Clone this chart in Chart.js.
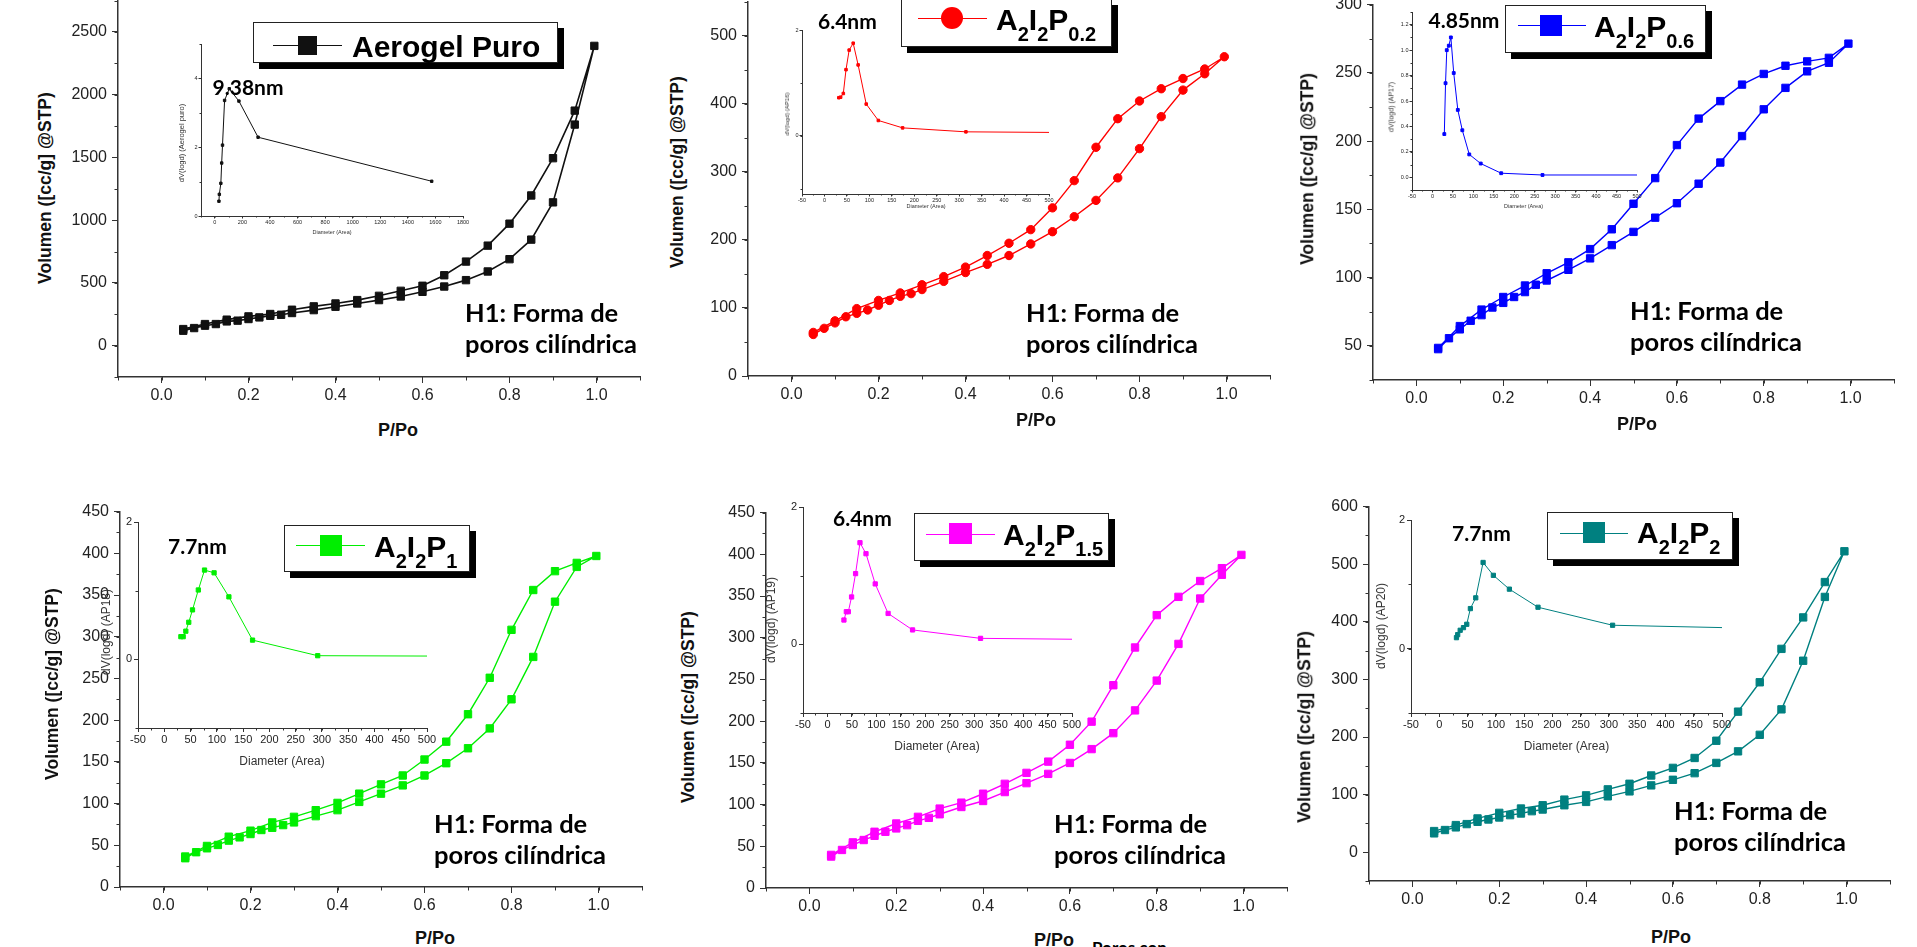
<!DOCTYPE html>
<html>
<head>
<meta charset="utf-8">
<title>Isotermas de adsorción</title>
<script src="https://cdn.jsdelivr.net/npm/chart.js@4.4.1/dist/chart.umd.min.js"></script>
<style>
  html, body { margin: 0; background: #fff; }
  body { position: relative; width: 1917px; height: 947px; overflow: hidden; font-family: 'Liberation Sans', Arial, sans-serif; }
  canvas, .t, .box, .ln, .mk { position: absolute; }
  .t { white-space: nowrap; line-height: 1; color: #000; }
  .c { transform: translate(-50%, -50%); }
  .v { transform: translate(-50%, -50%) rotate(-90deg); }
  .axt { font-weight: bold; font-size: 18px; color: #111; }
  .h1 { font: bold 25.5px Lato, sans-serif; line-height: 31px; }
  .nm { font: bold 21px Lato, sans-serif; }
  .lab { font: bold 30px 'Liberation Sans', Arial, sans-serif; }
  .lab sub { font-size: 20px; vertical-align: -11px; line-height: 0; }
  .box { box-sizing: border-box; border: 1.5px solid #222; background: #fff; box-shadow: 6px 6px 0 #000; }
  .ln { height: 1px; }
  .small { color: #333; }
  .poros { font: bold 17px Lato, sans-serif; }
</style>
</head>
<body>
<script>
// relative pressure steps (adsorption up, desorption down)
var adsP = [0.05, 0.075, 0.1, 0.125, 0.15, 0.175, 0.2, 0.225, 0.25, 0.275, 0.3, 0.35, 0.4, 0.45, 0.5, 0.55, 0.6, 0.65, 0.7, 0.75, 0.8, 0.85, 0.9, 0.95, 0.995];
var desP = [0.95, 0.9, 0.85, 0.8, 0.75, 0.7, 0.65, 0.6, 0.55, 0.5, 0.45, 0.4, 0.35, 0.3, 0.25, 0.2, 0.15, 0.1, 0.05];

// volumen adsorbido, cc/g @STP
var aerogelAds = [119, 140, 159, 172, 193, 199, 212, 225, 238, 246, 260, 283, 310, 336, 363, 392, 429, 471, 522, 591, 689, 845, 1142, 1762, 2389];
var aerogelDes = [1873, 1494, 1197, 972, 797, 670, 561, 477, 437, 397, 363, 336, 313, 286, 252, 233, 207, 172, 132];
var p02Ads = [61, 70, 78, 87, 92, 97, 104, 111, 117, 121, 127, 139, 152, 164, 177, 194, 212, 234, 258, 291, 334, 381, 420, 444, 469];
var p02Des = [451, 437, 422, 404, 378, 336, 287, 247, 215, 195, 177, 160, 146, 134, 122, 111, 99, 81, 64];
var p06Ads = [47.6, 55.6, 62.1, 68.4, 72.5, 78.1, 81.5, 85.8, 89.4, 94.8, 97.9, 105.7, 114.1, 123.8, 133.5, 143.9, 154.5, 168.8, 184.3, 203.7, 223.3, 239, 251.1, 257.4, 271.4];
var p06Des = [261, 258.4, 255.2, 249.2, 241.4, 229.3, 216.5, 197.1, 172.9, 154.1, 135.4, 120.9, 111.2, 103.2, 94.2, 85.8, 76.6, 64.5, 48.5];
var p1Ads = [34.5, 41.7, 46.4, 50.4, 55.6, 59.5, 63.5, 68.3, 71, 74.2, 77.4, 84.9, 92.1, 102, 111.9, 121.8, 133.7, 148.4, 166.3, 190.1, 225, 275.8, 342, 383.7, 396.8];
var p1Des = [388.5, 378.6, 356, 308.3, 250.8, 207.1, 174.2, 152.8, 133.7, 123, 111.9, 100.8, 92.1, 84.1, 77.4, 67.5, 60.3, 49.2, 36.5];
var p15Ads = [37.7, 45.6, 51.5, 57.5, 62.6, 67.4, 71.4, 75.3, 80.5, 84.1, 88.4, 97.1, 104.3, 115, 125.7, 136.8, 149.9, 166.5, 185.6, 212.9, 248.6, 292.6, 347, 375.5, 399.3];
var p15Des = [383.4, 368, 349, 327.1, 288.3, 243.1, 199.4, 171.7, 151.5, 138, 124.9, 113, 102.3, 95.2, 85.3, 77.3, 67.4, 54.7, 39.7];
var p2Ads = [32.7, 38.5, 43.1, 48.8, 52.8, 56.8, 60.3, 64.3, 67.2, 71.2, 74.1, 81.5, 87.3, 97, 105.6, 116, 125.7, 137.2, 155, 175.1, 203.8, 248, 332.4, 443.2, 522.4];
var p2Des = [469, 407.6, 353, 295, 244, 193.5, 163.6, 146.4, 133.2, 118.8, 109.1, 98.7, 91.3, 81.5, 75.8, 68.3, 58.6, 47.1, 36.7];

// pore size distributions (inset): diameter (A) and dV(logd)
var aerogelDiam = [30, 33, 44, 50, 56, 71, 105, 175, 314, 1573];
var aerogelDv = [0.43, 0.63, 0.95, 1.54, 2.06, 3.36, 3.70, 3.34, 2.29, 1.01];
var p02Diam = [32, 36, 42, 48, 55, 64, 75, 93, 120, 174, 315, 1600];
var p02Dv = [0.72, 0.73, 0.8, 1.25, 1.62, 1.75, 1.34, 0.6, 0.29, 0.15, 0.075, 0];
var p06Diam = [29, 32, 35, 40, 45, 52, 62, 73, 90, 118, 168, 269, 1600];
var p06Dv = [0.34, 0.74, 1.0, 1.035, 1.10, 0.82, 0.53, 0.37, 0.18, 0.108, 0.032, 0.018, 0.018];
var p1Diam = [31.6, 36, 41, 46.6, 53.7, 64.8, 76.6, 94.8, 123, 168, 292, 1600];
var p1Dv = [0.33, 0.33, 0.41, 0.54, 0.72, 1.01, 1.30, 1.26, 0.91, 0.28, 0.053, 0.02];
var p15Diam = [33.7, 38.6, 42.7, 49.3, 57.5, 66.5, 78.8, 97.7, 124, 174, 313, 1600];
var p15Dv = [0.354, 0.475, 0.475, 0.69, 1.03, 1.48, 1.32, 0.88, 0.45, 0.21, 0.087, 0];
var p2Diam = [30.4, 32.6, 37, 42.8, 48.6, 55, 64.5, 77.5, 95.7, 124, 174.6, 306.5, 1600];
var p2Dv = [0.171, 0.218, 0.286, 0.327, 0.379, 0.623, 0.79, 1.34, 1.14, 0.925, 0.644, 0.364, 0.12];

// tick labels
var pPoTicks = [0, 0.2, 0.4, 0.6, 0.8, 1.0];
var aerogelVolTicks = [0, 500, 1000, 1500, 2000, 2500];
var p02VolTicks = [0, 100, 200, 300, 400, 500];
var p06VolTicks = [50, 100, 150, 200, 250, 300];
var p1VolTicks = [0, 50, 100, 150, 200, 250, 300, 350, 400, 450];
var p2VolTicks = [0, 100, 200, 300, 400, 500, 600];
var aerogelDiamTicks = [0, 200, 400, 600, 800, 1000, 1200, 1400, 1600, 1800];
var diamTicks = [-50, 0, 50, 100, 150, 200, 250, 300, 350, 400, 450, 500];
var aerogelDvTicks = [0, 2, 4];
var dvTicks = [0, 2];
var p06DvTicks = [0, 0.2, 0.4, 0.6, 0.8, 1.0, 1.2];

var SANS = "'Liberation Sans', Arial, sans-serif";

function isotherm(ads, des) {
    return adsP.map(function (p, i) { return {x: p, y: ads[i]}; })
        .concat(desP.map(function (p, i) { return {x: p, y: des[i]}; }));
}
function pairs(xs, ys) {
    return xs.map(function (x, i) { return {x: x, y: ys[i]}; });
}

// Origin style minor ticks, outside the axes
Chart.register({
    id: 'minorTicks',
    afterDraw: function (chart, args, opts) {
        if (!opts.x) return;
        var ctx = chart.ctx, area = chart.chartArea, i, v, p;
        ctx.save();
        ctx.strokeStyle = '#333';
        ctx.lineWidth = 1;
        ctx.beginPath();
        for (i = 0; (v = opts.x[0] + i * opts.x[2]) <= opts.x[1] + 1e-9; i++) {
            p = Math.round(chart.scales.x.getPixelForValue(v)) + 0.5;
            ctx.moveTo(p, area.bottom);
            ctx.lineTo(p, area.bottom + opts.len);
        }
        for (i = 0; (v = opts.y[0] + i * opts.y[2]) <= opts.y[1] + 1e-9; i++) {
            p = Math.round(chart.scales.y.getPixelForValue(v)) + 0.5;
            ctx.moveTo(area.left, p);
            ctx.lineTo(area.left - opts.len, p);
        }
        ctx.stroke();
        ctx.restore();
    }
});

function axis(pos, range, ticks, dec, st) {
    return {
        type: 'linear', position: pos, min: range[0], max: range[1],
        afterBuildTicks: function (s) { s.ticks = ticks.map(function (v) { return {value: v}; }); },
        afterFit: function (s) { if (pos === 'left') s.width = st.yw; else s.height = st.xh; },
        ticks: {
            autoSkip: false, maxRotation: 0, color: '#222',
            padding: pos === 'left' ? st.padY : st.padX,
            font: {family: SANS, size: st.font},
            callback: function (v) { return v.toFixed(dec); }
        },
        grid: {drawOnChartArea: false, drawTicks: true, tickLength: st.tl, color: '#333', lineWidth: 1},
        border: {display: true, color: '#333', width: st.bw}
    };
}

function plot(a, data, s) {
    var pt = 12, pr = 18;
    var w = s.yw + a.r - a.l + pr, h = pt + a.b - a.t + s.xh;
    var c = document.createElement('canvas');
    c.width = w;
    c.height = h;
    c.style.left = (a.l - s.yw) + 'px';
    c.style.top = (a.t - pt) + 'px';
    document.body.appendChild(c);
    new Chart(c, {
        type: 'scatter',
        data: {
            datasets: [{
                data: data, showLine: true, clip: s.clip,
                borderColor: s.color, backgroundColor: s.color, borderWidth: s.lw,
                pointStyle: s.marker, pointRadius: s.r, pointBorderWidth: 1
            }]
        },
        options: {
            responsive: false, animation: false, events: [],
            layout: {padding: {top: pt, right: pr, left: 0, bottom: 0}},
            plugins: {
                legend: {display: false},
                tooltip: {enabled: false},
                minorTicks: {x: a.xMinor, y: a.yMinor, len: s.ml}
            },
            scales: {
                x: axis('bottom', a.x, a.xTicks, a.xDec, s),
                y: axis('left', a.y, a.yTicks, a.yDec, s)
            }
        }
    });
}

function put(cls, html, left, top, css) {
    var d = document.createElement('div');
    d.className = cls;
    d.innerHTML = html;
    d.style.left = left + 'px';
    d.style.top = top + 'px';
    if (css) d.style.cssText += css;
    document.body.appendChild(d);
    return d;
}

var H1 = 'H1: Forma de<br>poros cilíndrica';
var panels = [
    {color: '#111111', marker: 'rect', lw: 1.6, ir: 1.7,
        iso: isotherm(aerogelAds, aerogelDes), psd: pairs(aerogelDiam, aerogelDv),
        main: {l: 118, r: 640, t: -2, b: 377, y: [-250, 2750], yTicks: aerogelVolTicks, yMinor: [-250, 2750, 250]},
        inset: {l: 201, r: 463, t: 44, b: 216, x: [-100, 1800], xTicks: aerogelDiamTicks, xMinor: [-100, 1800, 100],
            y: [0, 5], yTicks: aerogelDvTicks, yMinor: [0, 5, 1], yDec: 0},
        small: true, yTitle: [46, 187.5], xTitle: [398, 430], h1: [465, 296.5], nm: ['9.38nm', 212.6, 74.1],
        legend: {box: [253, 22, 305, 41], line: [273, 342, 45], mk: [307, 45.5, 19, 19], text: ['Aerogel Puro', 352, 29.6]},
        iy: ['dV(logd) (Aerogel puro)', 182.4, 143, 7.5], ix: [332, 233, 5.5]},
    {color: '#ff0000', marker: 'circle', lw: 1.4, ir: 1.8,
        iso: isotherm(p02Ads, p02Des), psd: pairs(p02Diam, p02Dv),
        main: {l: 748, r: 1270, t: -1, b: 376, y: [0, 550], yTicks: p02VolTicks, yMinor: [0, 550, 50]},
        inset: {l: 802, r: 1049, t: 30, b: 194, x: [-50, 500], xTicks: diamTicks, xMinor: [-50, 500, 25],
            y: [-1.1, 2], yTicks: dvTicks, yMinor: [-1, 2, 1], yDec: 0},
        small: true, yTitle: [678, 172], xTitle: [1036, 420], h1: [1026, 296.5], nm: ['6.4nm', 818, 8.1],
        legend: {box: [901, -1, 211, 48], line: [918, 987, 17.5], mk: [952, 18, 22, 22], round: true,
            text: ['A<sub>2</sub>I<sub>2</sub>P<sub>0.2</sub>', 996, 2.9]},
        iy: ['dV(logd) (AP16)', 786.6, 114, 6], ix: [926, 207, 5.5]},
    {color: '#0000ff', marker: 'rect', lw: 1.4, ir: 2,
        iso: isotherm(p06Ads, p06Des), psd: pairs(p06Diam, p06Dv),
        main: {l: 1373, r: 1894, t: 2, b: 380, y: [25, 300], yTicks: p06VolTicks, yMinor: [25, 300, 25]},
        inset: {l: 1412, r: 1637, t: 12, b: 190, x: [-50, 500], xTicks: diamTicks, xMinor: [-50, 500, 25],
            y: [-0.1, 1.3], yTicks: p06DvTicks, yMinor: [-0.1, 1.3, 0.1], yDec: 1},
        small: true, yTitle: [1308, 168.5], xTitle: [1637, 423.5], h1: [1630, 294.8], nm: ['4.85nm', 1428.5, 7.4],
        legend: {box: [1505, 5, 201, 48], line: [1518, 1586, 25], mk: [1551, 25, 22, 21],
            text: ['A<sub>2</sub>I<sub>2</sub>P<sub>0.6</sub>', 1594, 9.6]},
        iy: ['dV(logd) (AP17)', 1391, 107, 7], ix: [1523.5, 207, 5.5]},
    {color: '#00ee00', marker: 'rect', lw: 1.4, ir: 3,
        iso: isotherm(p1Ads, p1Des), psd: pairs(p1Diam, p1Dv),
        main: {l: 120, r: 642, t: 509, b: 887, y: [0, 450], yTicks: p1VolTicks, yMinor: [0, 450, 25]},
        inset: {l: 138, r: 427, t: 522, b: 728, x: [-50, 500], xTicks: diamTicks, xMinor: [-50, 500, 25],
            y: [-1, 2], yTicks: dvTicks, yMinor: [-1, 2, 1], yDec: 0},
        small: false, yTitle: [53, 684], xTitle: [435, 938], h1: [434, 808.2], nm: ['7.7nm', 168, 533.1],
        legend: {box: [284, 525, 186, 47], line: [296, 365, 545], mk: [330.5, 545.5, 22, 21],
            text: ['A<sub>2</sub>I<sub>2</sub>P<sub>1</sub>', 374, 529.6]},
        iy: ['dV(logd) (AP18)', 105.7, 632, 12], ix: [282, 761, 12]},
    {color: '#ff00ff', marker: 'rect', lw: 1.4, ir: 3,
        iso: isotherm(p15Ads, p15Des), psd: pairs(p15Diam, p15Dv),
        main: {l: 766, r: 1287, t: 510, b: 888, y: [0, 450], yTicks: p1VolTicks, yMinor: [0, 450, 25]},
        inset: {l: 803, r: 1072, t: 507, b: 713, x: [-50, 500], xTicks: diamTicks, xMinor: [-50, 500, 25],
            y: [-1, 2], yTicks: dvTicks, yMinor: [-1, 2, 1], yDec: 0},
        small: false, yTitle: [689, 707], xTitle: [1054, 940], h1: [1054, 808.2], nm: ['6.4nm', 833, 505.4],
        legend: {box: [914, 513, 195, 48], line: [926, 995, 534], mk: [960, 533.5, 23, 21],
            text: ['A<sub>2</sub>I<sub>2</sub>P<sub>1.5</sub>', 1003, 517.9]},
        iy: ['dV(logd) (AP19)', 770.5, 619.5, 12], ix: [937, 745.7, 12]},
    {color: '#008080', marker: 'rect', lw: 1.4, ir: 3,
        iso: isotherm(p2Ads, p2Des), psd: pairs(p2Diam, p2Dv),
        main: {l: 1369, r: 1890, t: 504, b: 881, y: [-50, 600], yTicks: p2VolTicks, yMinor: [-50, 600, 50]},
        inset: {l: 1411, r: 1722, t: 520, b: 713, x: [-50, 500], xTicks: diamTicks, xMinor: [-50, 500, 25],
            y: [-1, 2], yTicks: dvTicks, yMinor: [-1, 2, 1], yDec: 0},
        small: false, yTitle: [1304.5, 727], xTitle: [1671, 937], h1: [1674, 794.8], nm: ['7.7nm', 1452, 519.7],
        legend: {box: [1547, 512, 186, 48], line: [1560, 1628, 532.5], mk: [1593.5, 532.5, 22, 21],
            text: ['A<sub>2</sub>I<sub>2</sub>P<sub>2</sub>', 1637, 516.3]},
        iy: ['dV(logd) (AP20)', 1380.6, 626, 12], ix: [1566.5, 745.7, 12]}
];

panels.forEach(function (p) {
    var m = p.main, ins = p.inset;
    m.x = [-0.1, 1.1];
    m.xTicks = pPoTicks;
    m.xMinor = [-0.1, 1.1, 0.1];
    m.xDec = 1;
    m.yDec = 0;
    ins.xDec = 0;
    plot(m, p.iso, {color: p.color, marker: p.marker, r: p.marker === 'circle' ? 4.2 : 5.2, lw: p.lw,
        yw: 60, xh: 40, font: 16, tl: 6, ml: 3.5, padX: 3, padY: 5, bw: 1.5, clip: undefined});
    plot(ins, p.psd, {color: p.color, marker: 'rect', r: p.ir, lw: 1, clip: 0,
        yw: 30, xh: 22, font: p.small ? 5.5 : 11, tl: p.small ? 2.5 : 4, ml: p.small ? 1.5 : 2.5,
        padX: p.small ? 0.5 : 1, padY: p.small ? 1 : 2, bw: 1});

    put('t axt v', 'Volumen ([cc/g] @STP)', p.yTitle[0], p.yTitle[1], 'font-size:17.5px');
    put('t axt c', 'P/Po', p.xTitle[0], p.xTitle[1]);
    put('t small v', p.iy[0], p.iy[1], p.iy[2], 'font-size:' + p.iy[3] + 'px');
    put('t small c', 'Diameter (Area)', p.ix[0], p.ix[1], 'font-size:' + p.ix[2] + 'px');
    put('t h1', H1, p.h1[0], p.h1[1]);
    put('t nm', p.nm[0], p.nm[1], p.nm[2]);

    var L = p.legend;
    put('box', '', L.box[0], L.box[1], 'width:' + L.box[2] + 'px;height:' + L.box[3] + 'px');
    put('ln', '', L.line[0], L.line[2], 'width:' + (L.line[1] - L.line[0]) + 'px;background:' + p.color);
    put('mk', '', L.mk[0] - L.mk[2] / 2, L.mk[1] - L.mk[3] / 2,
        'width:' + L.mk[2] + 'px;height:' + L.mk[3] + 'px;background:' + p.color + (L.round ? ';border-radius:50%' : ''));
    put('t lab', L.text[0], L.text[1], L.text[2]);
});

put('t poros', 'Poros con', 1092, 937);
</script>
</body>
</html>
